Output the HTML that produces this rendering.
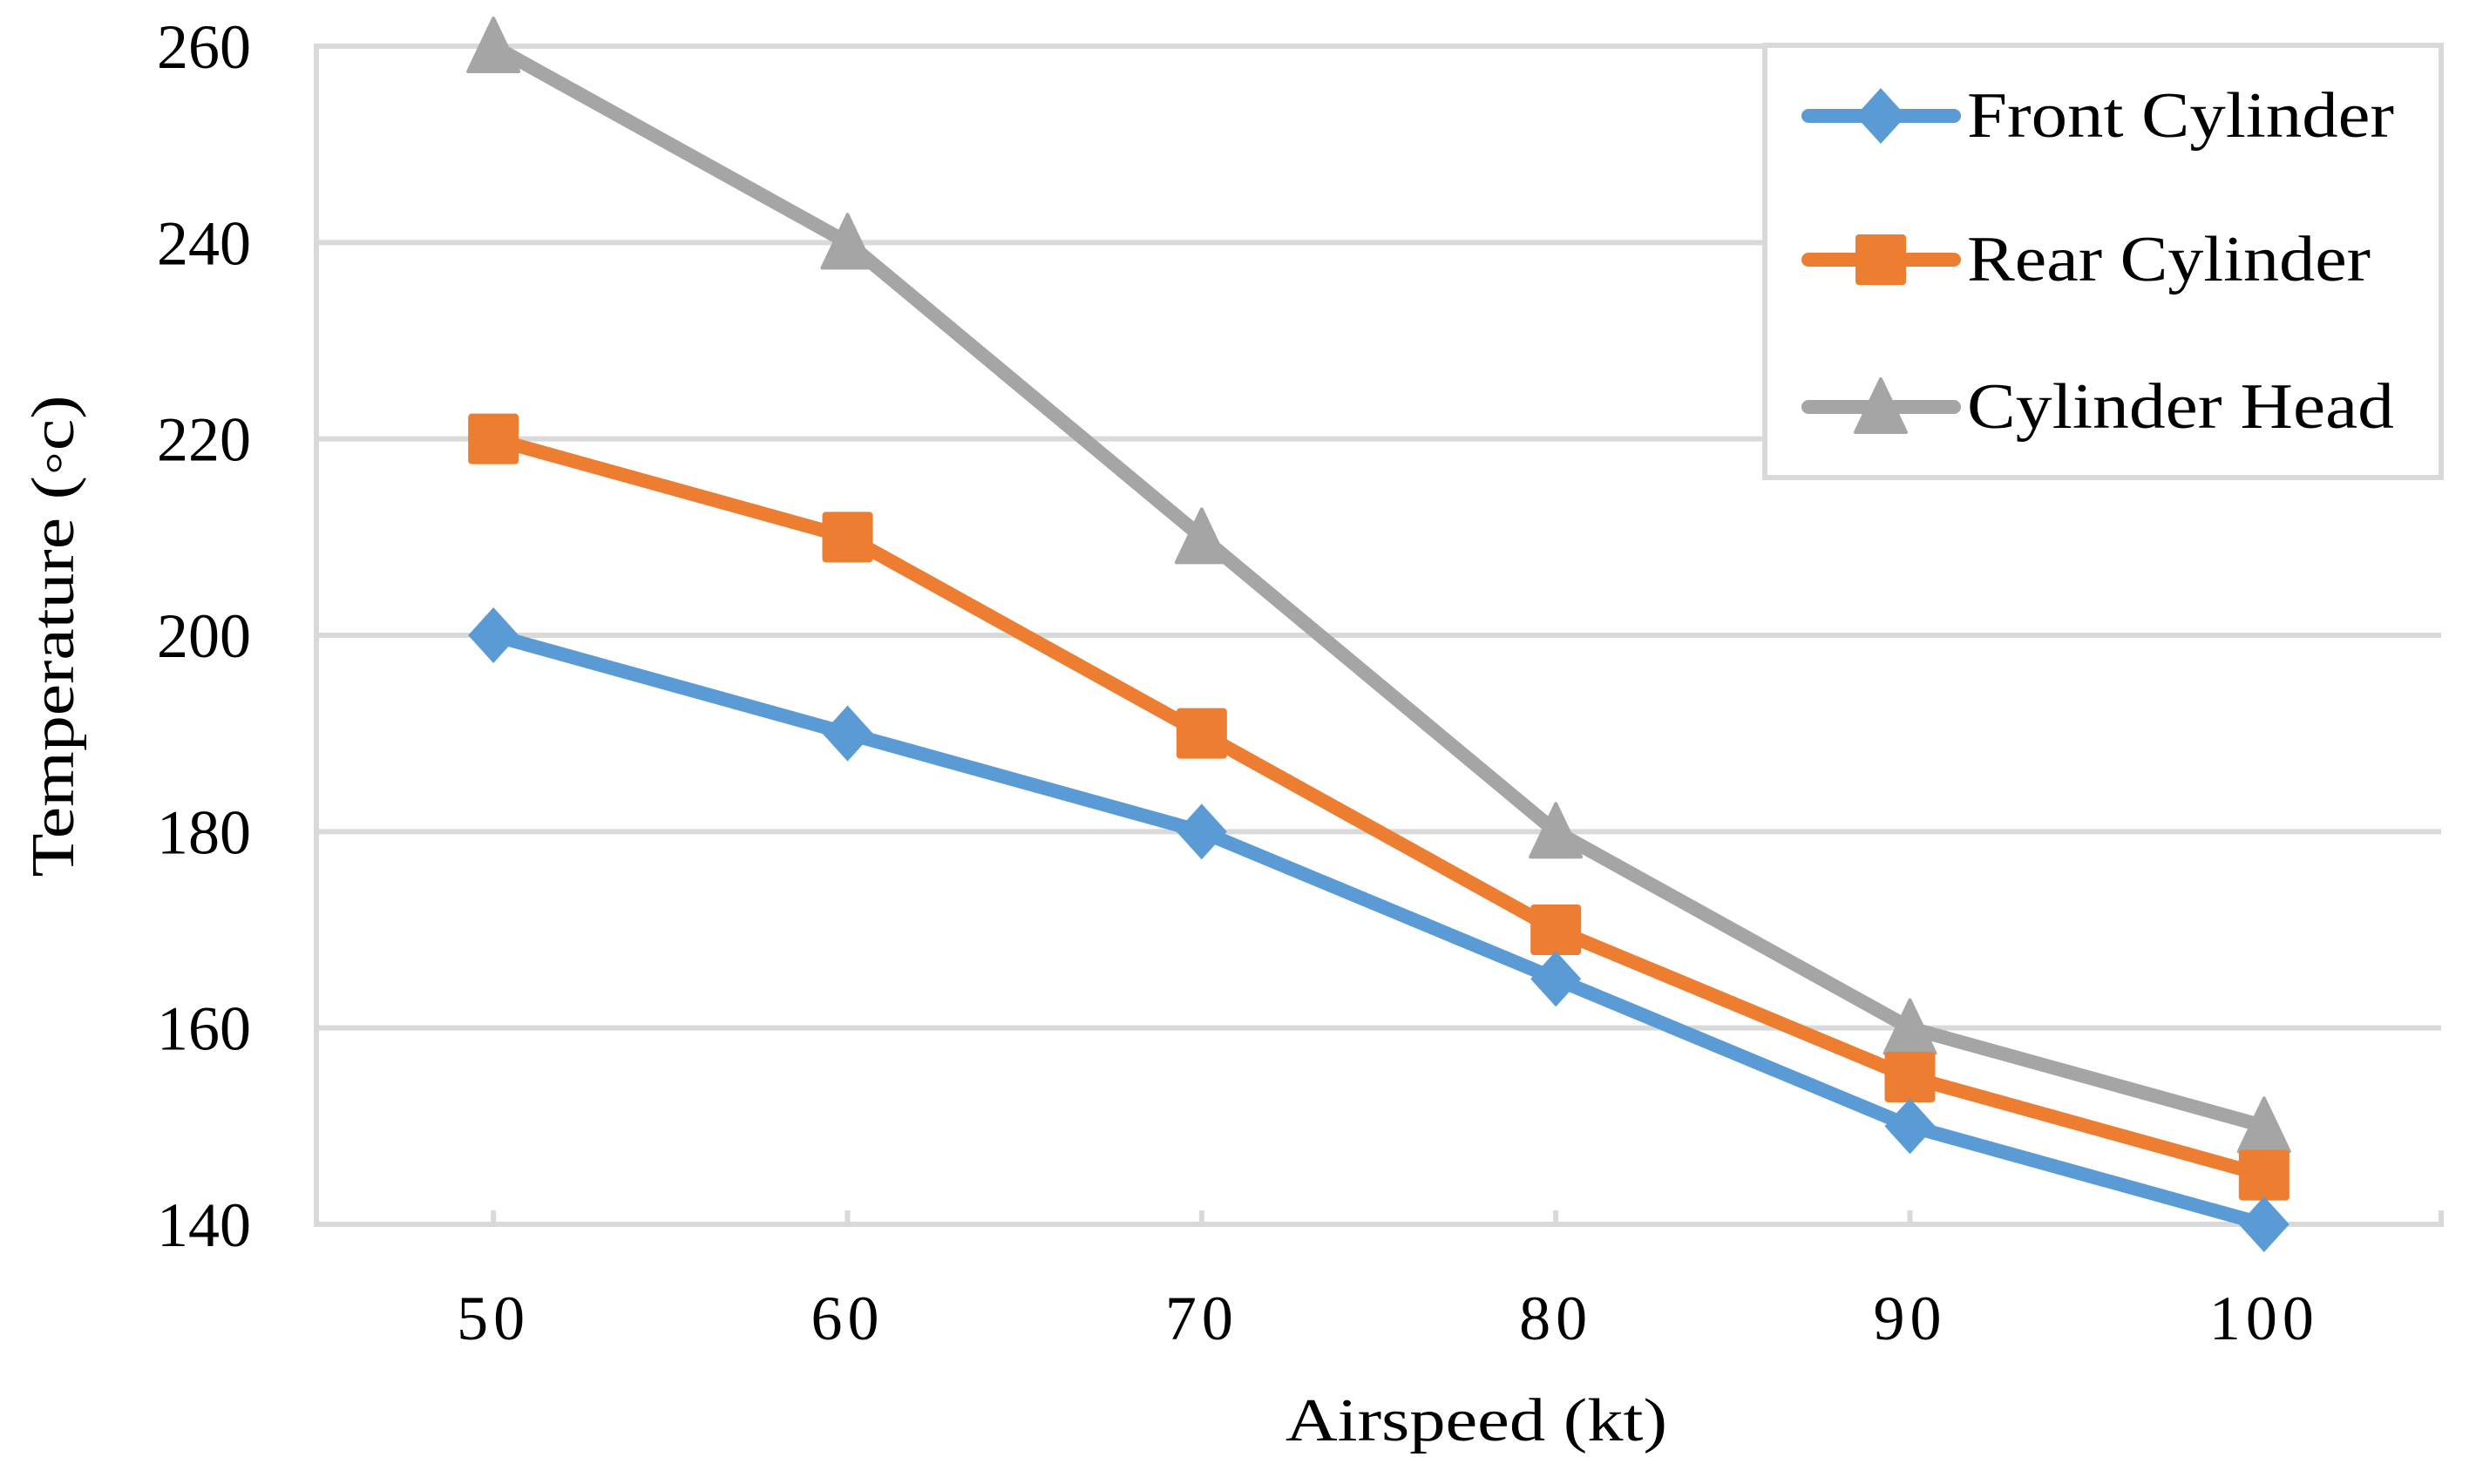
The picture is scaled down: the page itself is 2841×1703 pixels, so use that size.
<!DOCTYPE html>
<html><head><meta charset="utf-8"><style>
html,body{margin:0;padding:0;background:#fff;}
svg{display:block;font-family:"Liberation Serif",serif;}
</style></head><body>
<svg id="chart" width="2841" height="1703" viewBox="0 0 2841 1703" xmlns="http://www.w3.org/2000/svg">
<rect width="2841" height="1703" fill="#fff"/>
<g id="grid"></g>
<g id="series"></g>
<g id="labels"></g>
<g id="legend"></g>
</svg>
<script>
const categories = [50, 60, 70, 80, 90, 100];
const frontCylinder = [200, 190, 180, 165, 150, 140];
const rearCylinder = [220, 210, 190, 170, 155, 145];
const cylinderHead = [260, 240, 210, 180, 160, 150];
const yTicks = [140, 160, 180, 200, 220, 240, 260];
const seriesNames = ["Front Cylinder", "Rear Cylinder", "Cylinder Head"];

const NS = "http://www.w3.org/2000/svg";
const plotL = 363, plotR = 2801, plotT = 53, plotB = 1405;
const yMin = 140, yMax = 260;
function xPos(i){ const step = (plotR-plotL)/categories.length; return plotL + step*(i+0.5); }
function yPos(v){ return plotB - (v-yMin)/(yMax-yMin)*(plotB-plotT); }
function mk(tag, attrs, parent){ const e=document.createElementNS(NS,tag); for(const k in attrs) e.setAttribute(k,attrs[k]); parent.appendChild(e); return e; }

const grid = document.getElementById('grid');
const labels = document.getElementById('labels');
yTicks.forEach(t=>{
  const y=yPos(t);
  const gl = mk('line',{x1:plotL,x2:plotR,y1:y,y2:y,stroke:'#d9d9d9','stroke-width':6},grid);
  
  
  const tl = mk('text',{x:288,y:y+25,'text-anchor':'end','font-size':72,fill:'#000'},labels);
  tl.textContent=t;
  
  
});
const vax = mk('line',{x1:plotL,x2:plotL,y1:plotT-3,y2:plotB+3,stroke:'#d9d9d9','stroke-width':6},grid);


categories.forEach((c,i)=>{
  const x = xPos(i);
  const tk = mk('line',{x1:x,x2:x,y1:plotB,y2:plotB-16,stroke:'#d9d9d9','stroke-width':6},grid);
  
  
});
const endTick = mk('line',{x1:plotR,x2:plotR,y1:plotB+3,y2:plotB-16,stroke:'#d9d9d9','stroke-width':6},grid);


categories.forEach((c,i)=>{
  const tl = mk('text',{x:xPos(i),y:1537,'text-anchor':'middle','font-size':72,'letter-spacing':6,fill:'#000'},labels);
  tl.textContent=c;
  
  
});
const xt = mk('text',{x:1694,y:1653,'text-anchor':'middle','font-size':70,fill:'#000',textLength:438,lengthAdjust:'spacingAndGlyphs'},labels);
xt.textContent='Airspeed (kt)';


const yt = mk('text',{x:0,y:0,'text-anchor':'middle','font-size':70,fill:'#000',transform:'translate(84,730) rotate(-90)',textLength:553,lengthAdjust:'spacingAndGlyphs'},labels);
yt.textContent='Temperature (\u25E6c)';



function marker(type,cx,cy,color,parent){
  let e;
  if(type==='diamond'){
    e = mk('polygon',{points:`${cx},${cy-32} ${cx+29},${cy} ${cx},${cy+32} ${cx-29},${cy}`,fill:color},parent);
  } else if(type==='square'){
    e = mk('rect',{x:cx-29,y:cy-29,width:58,height:58,rx:4,fill:color},parent);
  } else {
    e = mk('polygon',{points:`${cx},${cy-32} ${cx+29},${cy+29} ${cx-29},${cy+29}`,fill:color,stroke:color,'stroke-width':4,'stroke-linejoin':'round'},parent);
  }
  return e;
}
const seriesData = [frontCylinder, rearCylinder, cylinderHead];
const colors = ['#5b9bd5','#ed7d31','#a5a5a5'];
const markers = ['diamond','square','triangle'];
const sg = document.getElementById('series');
[2,1,0].forEach(s=>{
  const g = mk('g',{},sg);
  
  
  const pts = seriesData[s].map((v,i)=>xPos(i)+','+yPos(v)).join(' ');
  const pl = mk('polyline',{points:pts,fill:'none',stroke:colors[s],'stroke-width':16,'stroke-linejoin':'round','stroke-linecap':'round'},g);
  
  
  seriesData[s].forEach((v,i)=>{
    const m = marker(markers[s],xPos(i),yPos(v),colors[s],g);
    
    
  });
});

const lg = document.getElementById('legend');


const lbox = mk('rect',{x:2025,y:52,width:776,height:496,fill:'#fff',stroke:'#d9d9d9','stroke-width':6},lg);


const legY = [133, 298, 467];
const legW = [490, 463, 490];
seriesNames.forEach((n,s)=>{
  const g = mk('g',{},lg);
  
  
  mk('line',{x1:2075,x2:2242,y1:legY[s],y2:legY[s],stroke:colors[s],'stroke-width':16,'stroke-linecap':'round'},g);
  marker(markers[s],2158,legY[s],colors[s],g);
  const t = mk('text',{x:2257,y:legY[s]+24,'font-size':74,fill:'#000',textLength:legW[s],lengthAdjust:'spacingAndGlyphs'},g);
  t.textContent=n;
});
</script>
</body></html>
